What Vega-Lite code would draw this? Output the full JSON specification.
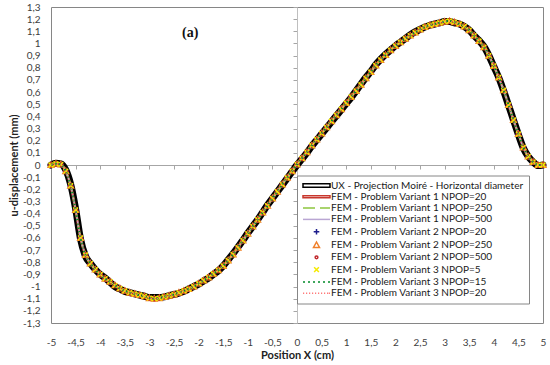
{
  "$schema": "https://vega.github.io/schema/vega-lite/v6.json",
  "width": 492,
  "height": 316,
  "autosize": "none",
  "padding": {"left": 51, "top": 7, "right": 7, "bottom": 42},
  "title": {"text": "(a)", "frame": "group", "anchor": "start", "orient": "top", "dx": 131, "offset": -38, "font": "Liberation Serif", "fontSize": 14, "fontWeight": "bold", "color": "#111111"},
  "config": {"view": {"stroke": "#868686", "strokeWidth": 1}},
  "data": {"values": [
    {"x": -5.0, "ux": 0, "fem": 0},
    {"x": -4.9, "ux": 0.015, "fem": 0.01},
    {"x": -4.8, "ux": 0.01, "fem": 0.005},
    {"x": -4.7, "ux": -0.04, "fem": -0.05},
    {"x": -4.6, "ux": -0.16, "fem": -0.17},
    {"x": -4.5, "ux": -0.36, "fem": -0.37},
    {"x": -4.4, "ux": -0.61, "fem": -0.6},
    {"x": -4.3, "ux": -0.75, "fem": -0.74},
    {"x": -4.2, "ux": -0.81, "fem": -0.81},
    {"x": -4.1, "ux": -0.86, "fem": -0.86},
    {"x": -4.0, "ux": -0.9, "fem": -0.9},
    {"x": -3.9, "ux": -0.93, "fem": -0.935},
    {"x": -3.8, "ux": -0.965, "fem": -0.96},
    {"x": -3.7, "ux": -1.0, "fem": -0.99},
    {"x": -3.6, "ux": -1.02, "fem": -1.015},
    {"x": -3.5, "ux": -1.04, "fem": -1.035},
    {"x": -3.4, "ux": -1.05, "fem": -1.05},
    {"x": -3.3, "ux": -1.06, "fem": -1.06},
    {"x": -3.2, "ux": -1.07, "fem": -1.07},
    {"x": -3.1, "ux": -1.08, "fem": -1.08},
    {"x": -3.0, "ux": -1.09, "fem": -1.095},
    {"x": -2.9, "ux": -1.09, "fem": -1.1},
    {"x": -2.8, "ux": -1.09, "fem": -1.095},
    {"x": -2.7, "ux": -1.085, "fem": -1.085},
    {"x": -2.6, "ux": -1.075, "fem": -1.075},
    {"x": -2.5, "ux": -1.065, "fem": -1.065},
    {"x": -2.4, "ux": -1.055, "fem": -1.05},
    {"x": -2.3, "ux": -1.04, "fem": -1.035},
    {"x": -2.2, "ux": -1.02, "fem": -1.02},
    {"x": -2.1, "ux": -1.0, "fem": -1.0},
    {"x": -2.0, "ux": -0.98, "fem": -0.975},
    {"x": -1.9, "ux": -0.955, "fem": -0.95},
    {"x": -1.8, "ux": -0.93, "fem": -0.925},
    {"x": -1.7, "ux": -0.9, "fem": -0.895},
    {"x": -1.6, "ux": -0.87, "fem": -0.865},
    {"x": -1.5, "ux": -0.83, "fem": -0.83},
    {"x": -1.4, "ux": -0.78, "fem": -0.785},
    {"x": -1.3, "ux": -0.73, "fem": -0.735},
    {"x": -1.2, "ux": -0.675, "fem": -0.68},
    {"x": -1.1, "ux": -0.62, "fem": -0.62},
    {"x": -1.0, "ux": -0.56, "fem": -0.565},
    {"x": -0.9, "ux": -0.505, "fem": -0.505},
    {"x": -0.8, "ux": -0.45, "fem": -0.45},
    {"x": -0.7, "ux": -0.39, "fem": -0.39},
    {"x": -0.6, "ux": -0.33, "fem": -0.335},
    {"x": -0.5, "ux": -0.275, "fem": -0.275},
    {"x": -0.4, "ux": -0.22, "fem": -0.22},
    {"x": -0.3, "ux": -0.165, "fem": -0.16},
    {"x": -0.2, "ux": -0.11, "fem": -0.105},
    {"x": -0.1, "ux": -0.055, "fem": -0.05},
    {"x": 0.0, "ux": 0, "fem": 0.005},
    {"x": 0.1, "ux": 0.05, "fem": 0.055},
    {"x": 0.2, "ux": 0.1, "fem": 0.105},
    {"x": 0.3, "ux": 0.155, "fem": 0.16},
    {"x": 0.4, "ux": 0.205, "fem": 0.21},
    {"x": 0.5, "ux": 0.255, "fem": 0.26},
    {"x": 0.6, "ux": 0.305, "fem": 0.31},
    {"x": 0.7, "ux": 0.355, "fem": 0.36},
    {"x": 0.8, "ux": 0.405, "fem": 0.41},
    {"x": 0.9, "ux": 0.455, "fem": 0.46},
    {"x": 1.0, "ux": 0.505, "fem": 0.51},
    {"x": 1.1, "ux": 0.555, "fem": 0.56},
    {"x": 1.2, "ux": 0.61, "fem": 0.61},
    {"x": 1.3, "ux": 0.665, "fem": 0.66},
    {"x": 1.4, "ux": 0.72, "fem": 0.715},
    {"x": 1.5, "ux": 0.77, "fem": 0.765},
    {"x": 1.6, "ux": 0.825, "fem": 0.82},
    {"x": 1.7, "ux": 0.87, "fem": 0.865},
    {"x": 1.8, "ux": 0.91, "fem": 0.905},
    {"x": 1.9, "ux": 0.945, "fem": 0.945},
    {"x": 2.0, "ux": 0.98, "fem": 0.98},
    {"x": 2.1, "ux": 1.01, "fem": 1.01},
    {"x": 2.2, "ux": 1.04, "fem": 1.04},
    {"x": 2.3, "ux": 1.07, "fem": 1.065},
    {"x": 2.4, "ux": 1.095, "fem": 1.09},
    {"x": 2.5, "ux": 1.115, "fem": 1.115},
    {"x": 2.6, "ux": 1.135, "fem": 1.135},
    {"x": 2.7, "ux": 1.15, "fem": 1.15},
    {"x": 2.8, "ux": 1.16, "fem": 1.16},
    {"x": 2.9, "ux": 1.17, "fem": 1.17},
    {"x": 3.0, "ux": 1.18, "fem": 1.18},
    {"x": 3.1, "ux": 1.18, "fem": 1.185},
    {"x": 3.2, "ux": 1.17, "fem": 1.175},
    {"x": 3.3, "ux": 1.16, "fem": 1.16},
    {"x": 3.4, "ux": 1.14, "fem": 1.14},
    {"x": 3.5, "ux": 1.11, "fem": 1.11},
    {"x": 3.6, "ux": 1.065, "fem": 1.065},
    {"x": 3.7, "ux": 1.025, "fem": 1.02},
    {"x": 3.8, "ux": 0.975, "fem": 0.97},
    {"x": 3.9, "ux": 0.9, "fem": 0.9},
    {"x": 4.0, "ux": 0.81, "fem": 0.815},
    {"x": 4.1, "ux": 0.72, "fem": 0.72},
    {"x": 4.2, "ux": 0.61, "fem": 0.615},
    {"x": 4.3, "ux": 0.49, "fem": 0.495},
    {"x": 4.4, "ux": 0.37, "fem": 0.37},
    {"x": 4.5, "ux": 0.25, "fem": 0.255},
    {"x": 4.6, "ux": 0.14, "fem": 0.145},
    {"x": 4.7, "ux": 0.07, "fem": 0.07},
    {"x": 4.8, "ux": 0.025, "fem": 0.025},
    {"x": 4.9, "ux": -0.005, "fem": 0},
    {"x": 5.0, "ux": 0, "fem": 0}
  ]},
  "transform": [{"fold": ["ux", "fem"], "as": ["key", "val"]}],
  "encoding": {
    "x": {
      "field": "x", "type": "quantitative",
      "scale": {"domain": [-5, 5], "nice": false, "zero": false},
      "axis": {
        "orient": "bottom", "offset": -158, "grid": false,
        "values": [-5, -4.5, -4, -3.5, -3, -2.5, -2, -1.5, -1, -0.5, 0, 0.5, 1, 1.5, 2, 2.5, 3, 3.5, 4, 4.5, 5],
        "labelExpr": "replace(replace(format(datum.value, '.1~f'), '.', ','), '\u2212', '-')",
        "tickSize": 4, "tickColor": "#a6a6a6", "domainColor": "#a6a6a6",
        "labelPadding": 168, "labelFont": "Lato", "labelFontSize": 10, "labelColor": "#404040",
        "labelOverlap": false, "labelFlush": false, "labelBound": false,
        "title": "Position X (cm)", "titleFont": "Lato", "titleFontSize": 11, "titleFontWeight": "bold", "titleColor": "#222222", "titlePadding": 2
      }
    },
    "y": {
      "field": "val", "type": "quantitative",
      "scale": {"domain": [-1.3, 1.3], "nice": false, "zero": false},
      "axis": {
        "orient": "left", "offset": -246, "grid": false,
        "values": [-1.3, -1.2, -1.1, -1, -0.9, -0.8, -0.7, -0.6, -0.5, -0.4, -0.3, -0.2, -0.1, 0, 0.1, 0.2, 0.3, 0.4, 0.5, 0.6, 0.7, 0.8, 0.9, 1, 1.1, 1.2, 1.3],
        "labelExpr": "replace(replace(format(datum.value, '.1~f'), '.', ','), '\u2212', '-')",
        "tickSize": 4, "tickColor": "#a6a6a6", "domainColor": "#bfbfbf",
        "labelPadding": 253, "labelFont": "Lato", "labelFontSize": 10, "labelColor": "#404040",
        "labelOverlap": false, "labelFlush": false, "labelBound": false,
        "title": "u-displacement (mm)", "titleFont": "Lato", "titleFontSize": 11, "titleFontWeight": "bold", "titleColor": "#222222",
        "titleX": -283, "titleY": 158, "titleAngle": -90, "titleAlign": "center", "titleBaseline": "middle"
      }
    }
  },
  "layer": [
    {
      "transform": [{"filter": "datum.key === 'ux'"}],
      "mark": {"type": "line", "strokeWidth": 7, "interpolate": "monotone", "strokeCap": "round", "strokeJoin": "round"},
      "encoding": {
        "color": {
          "datum": "UX - Projection Moiré - Horizontal diameter", "type": "nominal",
          "scale": {
            "domain": ["UX - Projection Moiré - Horizontal diameter", "FEM - Problem Variant 1 NPOP=20", "FEM - Problem Variant 1 NPOP=250", "FEM - Problem Variant 1 NPOP=500", "FEM - Problem Variant 2 NPOP=20", "FEM - Problem Variant 2 NPOP=250", "FEM - Problem Variant 2 NPOP=500", "FEM - Problem Variant 3 NPOP=5", "FEM - Problem Variant 3 NPOP=15", "FEM - Problem Variant 3 NPOP=20"],
            "range": ["#000000", "#c8372d", "#8dc63f", "#b9a6d3", "#1c1c8c", "#f07f2a", "#c0282d", "#f5ea00", "#008a28", "#ff7a7a"]
          },
          "legend": {
            "title": null, "orient": "none", "legendX": 246, "legendY": 168.5,
            "padding": 5, "fillColor": "#ffffff", "strokeColor": "#868686",
            "symbolSize": 16, "symbolStrokeWidth": 1.5, "symbolOffset": 9.5, "labelOffset": 9.5, "rowPadding": 1.3,
            "labelFont": "Lato", "labelFontSize": 10, "labelColor": "#1a1a1a", "labelLimit": 400,
            "encode": {"symbols": {"update": {"strokeWidth": {"value": 1.5}, "fill": {"value": "transparent"}, "opacity": {"value": 1}}}}
          }
        }
      }
    },
    {
      "transform": [{"filter": "datum.key === 'fem'"}],
      "mark": {"type": "line", "strokeWidth": 2.5, "interpolate": "monotone"},
      "encoding": {"color": {"datum": "FEM - Problem Variant 1 NPOP=20", "type": "nominal"}}
    },
    {
      "transform": [{"filter": "datum.key === 'fem'"}],
      "mark": {"type": "line", "strokeWidth": 2, "strokeDash": [6, 3], "interpolate": "monotone"},
      "encoding": {"color": {"datum": "FEM - Problem Variant 1 NPOP=250", "type": "nominal"}}
    },
    {
      "transform": [{"filter": "datum.key === 'fem'"}],
      "mark": {"type": "line", "strokeWidth": 1.5, "interpolate": "monotone"},
      "encoding": {"color": {"datum": "FEM - Problem Variant 1 NPOP=500", "type": "nominal"}}
    },
    {
      "transform": [{"filter": "datum.key === 'fem'"}],
      "mark": {"type": "point", "filled": false, "size": 16, "strokeWidth": 1.5, "opacity": 1},
      "encoding": {
        "color": {"datum": "FEM - Problem Variant 2 NPOP=20", "type": "nominal"},
        "shape": {
          "datum": "FEM - Problem Variant 2 NPOP=20", "type": "nominal",
          "scale": {
            "domain": ["UX - Projection Moiré - Horizontal diameter", "FEM - Problem Variant 1 NPOP=20", "FEM - Problem Variant 1 NPOP=250", "FEM - Problem Variant 1 NPOP=500", "FEM - Problem Variant 2 NPOP=20", "FEM - Problem Variant 2 NPOP=250", "FEM - Problem Variant 2 NPOP=500", "FEM - Problem Variant 3 NPOP=5", "FEM - Problem Variant 3 NPOP=15", "FEM - Problem Variant 3 NPOP=20"],
            "range": [
              "M-6.75,-0.9H6.75V0.9H-6.75Z",
              "M-6.75,-0.5H6.75V0.5H-6.75Z",
              "M-6.75,0H-0.75M1.75,0H6.75",
              "M-6.75,0H6.75",
              "M-1.4,0H1.4M0,-1.4V1.4",
              "M0,-1.5L1.5,1.2L-1.5,1.2Z",
              "M0.7,0A0.7,0.7 0 1,1 -0.7,0A0.7,0.7 0 1,1 0.7,0Z",
              "M-1.2,-1.2L1.2,1.2M1.2,-1.2L-1.2,1.2",
              "M-6.75,0h1M-4.25,0h1M-1.75,0h1M0.75,0h1M3.25,0h1M5.75,0h1",
              "M-6.75,0h0.6M-5.25,0h0.6M-3.75,0h0.6M-2.25,0h0.6M-0.75,0h0.6M0.75,0h0.6M2.25,0h0.6M3.75,0h0.6M5.25,0h0.6M6.15,0h0.6"
            ]
          },
          "legend": {
            "title": null, "orient": "none", "legendX": 246, "legendY": 168.5,
            "padding": 5, "fillColor": "#ffffff", "strokeColor": "#868686",
            "symbolSize": 16, "symbolStrokeWidth": 1.5, "symbolOffset": 9.5, "labelOffset": 9.5, "rowPadding": 1.3,
            "labelFont": "Lato", "labelFontSize": 10, "labelColor": "#1a1a1a", "labelLimit": 400,
            "encode": {"symbols": {"update": {"strokeWidth": {"value": 1.5}, "fill": {"value": "transparent"}, "opacity": {"value": 1}}}}
          }
        }
      }
    },
    {
      "transform": [{"filter": "datum.key === 'fem'"}],
      "mark": {"type": "point", "filled": false, "size": 16, "strokeWidth": 1.3, "opacity": 1},
      "encoding": {
        "color": {"datum": "FEM - Problem Variant 2 NPOP=250", "type": "nominal"},
        "shape": {"datum": "FEM - Problem Variant 2 NPOP=250", "type": "nominal"}
      }
    },
    {
      "transform": [{"filter": "datum.key === 'fem'"}],
      "mark": {"type": "point", "filled": false, "size": 16, "strokeWidth": 2.5, "opacity": 1},
      "encoding": {
        "color": {"datum": "FEM - Problem Variant 2 NPOP=500", "type": "nominal"},
        "shape": {"datum": "FEM - Problem Variant 2 NPOP=500", "type": "nominal"}
      }
    },
    {
      "transform": [{"filter": "datum.key === 'fem'"}],
      "mark": {"type": "point", "filled": false, "size": 16, "strokeWidth": 1.5, "opacity": 1},
      "encoding": {
        "color": {"datum": "FEM - Problem Variant 3 NPOP=5", "type": "nominal"},
        "shape": {"datum": "FEM - Problem Variant 3 NPOP=5", "type": "nominal"}
      }
    },
    {
      "transform": [{"filter": "datum.key === 'fem'"}],
      "mark": {"type": "line", "strokeWidth": 2, "strokeDash": [2, 2], "interpolate": "monotone"},
      "encoding": {"color": {"datum": "FEM - Problem Variant 3 NPOP=15", "type": "nominal"}}
    },
    {
      "transform": [{"filter": "datum.key === 'fem'"}],
      "mark": {"type": "line", "strokeWidth": 1, "strokeDash": [1.5, 1.5], "interpolate": "monotone"},
      "encoding": {"color": {"datum": "FEM - Problem Variant 3 NPOP=20", "type": "nominal"}}
    }
  ]
}
